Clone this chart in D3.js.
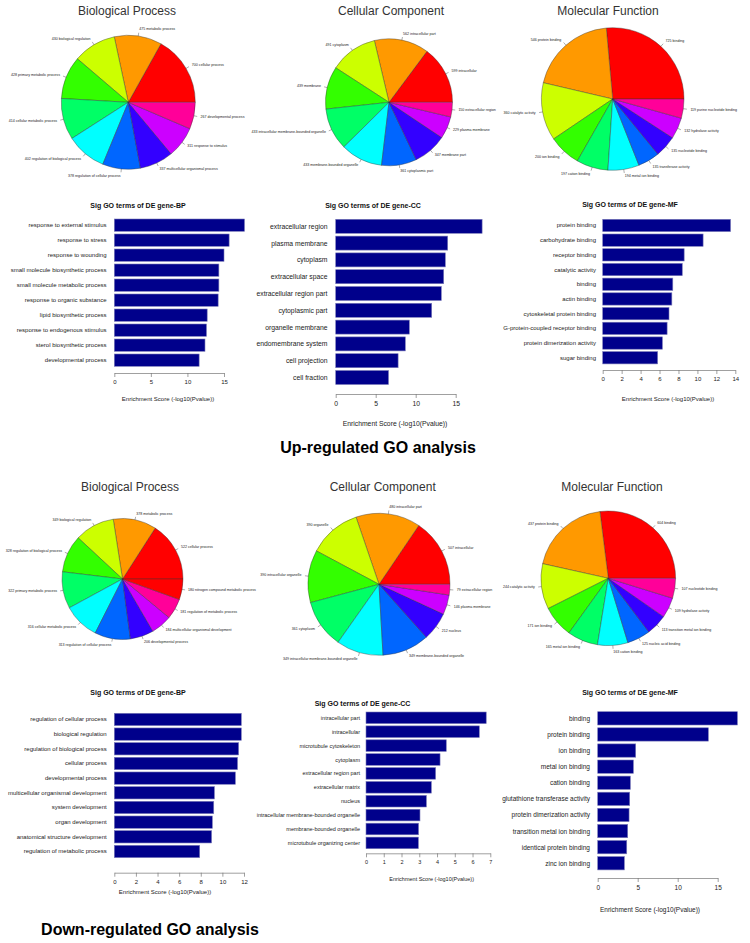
<!DOCTYPE html>
<html><head><meta charset="utf-8">
<script src="https://cdn.jsdelivr.net/npm/d3@7"></script>
<style>body{margin:0;background:#fff}svg{display:block;font-family:"Liberation Sans",Arial,sans-serif}</style>
</head><body><svg id="c" width="750" height="943"></svg>
<script>
// ---------- colours (R rainbow(10)) ----------
const pieColors = ["#FF0000","#FF9900","#CCFF00","#33FF00","#00FF66","#00FFFF","#0066FF","#3300FF","#CC00FF","#FF0099"];

// ---------- Up-regulated pies ----------
const upBPPieTerms = ["cellular process","metabolic process","biological regulation","primary metabolic process","cellular metabolic process","regulation of biological process","regulation of cellular process","multicellular organismal process","response to stimulus","developmental process"];
const upBPPieCounts = [700,475,430,428,414,402,378,337,311,267];
const upCCPieTerms = ["intracellular","intracellular part","cytoplasm","membrane","intracellular membrane-bounded organelle","membrane-bounded organelle","cytoplasmic part","membrane part","plasma membrane","extracellular region"];
const upCCPieCounts = [599,562,491,439,433,433,361,347,229,150];
const upMFPieTerms = ["binding","protein binding","catalytic activity","ion binding","cation binding","metal ion binding","transferase activity","nucleotide binding","hydrolase activity","purine nucleotide binding"];
const upMFPieCounts = [725,546,360,200,197,194,135,135,132,119];

// ---------- Down-regulated pies ----------
const downBPPieTerms = ["cellular process","metabolic process","biological regulation","regulation of biological process","primary metabolic process","cellular metabolic process","regulation of cellular process","developmental process","multicellular organismal development","regulation of metabolic process","nitrogen compound metabolic process"];
const downBPPieCounts = [522,378,349,328,322,316,313,206,184,181,180];
const downCCPieTerms = ["intracellular","intracellular part","organelle","intracellular organelle","cytoplasm","intracellular membrane-bounded organelle","membrane-bounded organelle","nucleus","plasma membrane","extracellular region"];
const downCCPieCounts = [507,480,390,390,361,349,349,212,146,79];
const downMFPieTerms = ["binding","protein binding","catalytic activity","ion binding","metal ion binding","cation binding","nucleic acid binding","transition metal ion binding","hydrolase activity","nucleotide binding"];
const downMFPieCounts = [604,437,244,171,165,163,125,113,109,107];

// ---------- Up-regulated bars ----------
const upBPTerms = ["response to external stimulus","response to stress","response to wounding","small molecule biosynthetic process","small molecule metabolic process","response to organic substance","lipid biosynthetic process","response to endogenous stimulus","sterol biosynthetic process","developmental process"];
const upBPScores = [17.8,15.7,15.0,14.3,14.3,14.2,12.7,12.6,12.4,11.6];
const upBPTicks = [0,5,10,15];
const upCCTerms = ["extracellular region","plasma membrane","cytoplasm","extracellular space","extracellular region part","cytoplasmic part","organelle membrane","endomembrane system","cell projection","cell fraction"];
const upCCScores = [18.3,14.0,13.7,13.5,13.2,12.0,9.2,8.7,7.8,6.6];
const upCCTicks = [0,5,10,15];
const upMFTerms = ["protein binding","carbohydrate binding","receptor binding","catalytic activity","binding","actin binding","cytoskeletal protein binding","G-protein-coupled receptor binding","protein dimerization activity","sugar binding"];
const upMFScores = [13.5,10.6,8.6,8.4,7.4,7.3,7.0,6.8,6.3,5.8];
const upMFTicks = [0,2,4,6,8,10,12,14];

// ---------- Down-regulated bars ----------
const downBPTerms = ["regulation of cellular process","biological regulation","regulation of biological process","cellular process","developmental process","multicellular organismal development","system development","organ development","anatomical structure development","regulation of metabolic process"];
const downBPScores = [11.75,11.75,11.5,11.4,11.2,9.26,9.2,9.07,9.0,7.9];
const downBPTicks = [0,2,4,6,8,10,12];
const downCCTerms = ["intracellular part","intracellular","microtubule cytoskeleton","cytoplasm","extracellular region part","extracellular matrix","nucleus","intracellular membrane-bounded organelle","membrane-bounded organelle","microtubule organizing center"];
const downCCScores = [6.77,6.38,4.52,4.17,3.92,3.68,3.4,3.04,2.96,2.95];
const downCCTicks = [0,1,2,3,4,5,6,7];
const downMFTerms = ["binding","protein binding","ion binding","metal ion binding","cation binding","glutathione transferase activity","protein dimerization activity","transition metal ion binding","identical protein binding","zinc ion binding"];
const downMFScores = [17.46,13.83,4.75,4.46,4.08,4.0,3.92,3.75,3.63,3.33];
const downMFTicks = [0,5,10,15];

const axisTitle = "Enrichment Score (-log10(Pvalue))";

const svg = d3.select("#c");

function drawPie(terms, counts, o) {
  const g = svg.append("g").attr("transform", `translate(${o.cx},${o.cy})`);
  const pie = d3.pie().sort(null).startAngle(Math.PI/2).endAngle(Math.PI/2 - 2*Math.PI);
  const arcs = pie(counts);
  const arc = d3.arc().innerRadius(0).outerRadius(o.r);
  g.selectAll("path").data(arcs).join("path")
    .attr("d", arc)
    .attr("fill", (d,i) => pieColors[i % pieColors.length])
    .attr("stroke", "#333").attr("stroke-width", 0.4);
  arcs.forEach((d,i) => {
    const a = (d.startAngle + d.endAngle)/2;
    const sx = Math.sin(a), sy = -Math.cos(a);
    g.append("line").attr("x1", sx*o.r).attr("y1", sy*o.r)
      .attr("x2", sx*o.r*1.05).attr("y2", sy*o.r*1.05)
      .attr("stroke", "#333").attr("stroke-width", 0.4);
    g.append("text").attr("x", sx*o.r*1.1).attr("y", sy*o.r*1.1)
      .attr("text-anchor", sx >= 0 ? "start" : "end")
      .attr("dominant-baseline", "central")
      .attr("font-size", 3.6).attr("fill", "#222")
      .text(counts[i] + " " + terms[i]);
  });
  svg.append("text").attr("x", o.tx).attr("y", o.ty)
    .attr("text-anchor", "middle").attr("dominant-baseline", "central")
    .attr("font-size", 12).attr("fill", "#333").text(o.title);
}

function drawBars(terms, scores, ticks, o) {
  const x = d3.scaleLinear().domain([0, ticks[ticks.length-1]]).range([o.x0, o.x1]);
  const p = (o.pitch - o.h) / o.pitch;
  const y = d3.scaleBand().domain(terms)
    .range([o.yTop - (o.pitch - o.h)/2, o.yTop - (o.pitch - o.h)/2 + o.pitch*terms.length])
    .paddingInner(p).paddingOuter(p/2);
  const g = svg.append("g");
  g.selectAll("rect").data(terms).join("rect")
    .attr("x", x(0)).attr("y", d => y(d))
    .attr("width", (d,i) => x(scores[i]) - x(0))
    .attr("height", y.bandwidth())
    .attr("fill", "#00008B").attr("stroke", "#7a7ab8").attr("stroke-width", 0.6);
  g.selectAll("text.lab").data(terms).join("text").attr("class","lab")
    .attr("x", o.labelX).attr("y", d => y(d) + y.bandwidth()/2)
    .attr("text-anchor", "end").attr("dominant-baseline", "central")
    .attr("font-size", o.fs).attr("fill", "#222").text(d => d);
  const ax = svg.append("g").attr("transform", `translate(0,${o.axisY})`)
    .call(d3.axisBottom(x).tickValues(ticks).tickSize(4).tickSizeOuter(0).tickFormat(d3.format("d")));
  ax.select(".domain").attr("stroke", "#777").attr("stroke-width", 0.7);
  ax.selectAll(".tick line").attr("stroke", "#777").attr("stroke-width", 0.7);
  ax.selectAll(".tick text").attr("font-size", o.fs).attr("fill", "#222")
    .attr("font-family", '"Liberation Sans",Arial,sans-serif').attr("y", o.tickLabDy);
  svg.append("text").attr("x", o.tx).attr("y", o.ty)
    .attr("text-anchor", "middle").attr("dominant-baseline", "central")
    .attr("font-size", 7).attr("font-weight", "bold").attr("fill", "#111").text(o.title);
  svg.append("text").attr("x", o.axX).attr("y", o.axY)
    .attr("text-anchor", "middle").attr("dominant-baseline", "central")
    .attr("font-size", o.fs).attr("fill", "#222").text(axisTitle);
}

// Up pies
drawPie(upBPPieTerms, upBPPieCounts, {cx:128.3, cy:102.3, r:67, title:"Biological Process", tx:127, ty:11});
drawPie(upCCPieTerms, upCCPieCounts, {cx:389, cy:102.3, r:63.5, title:"Cellular Component", tx:391, ty:11});
drawPie(upMFPieTerms, upMFPieCounts, {cx:612.7, cy:99, r:71.3, title:"Molecular Function", tx:608, ty:11});

// Up bars
drawBars(upBPTerms, upBPScores, upBPTicks, {x0:114.3, x1:224, yTop:219, pitch:15, h:12.3, labelX:106.5, fs:6,
  title:"Sig GO terms of DE gene-BP", tx:138, ty:205, axisY:373, tickLabDy:7, axX:168, axY:399});
drawBars(upCCTerms, upCCScores, upCCTicks, {x0:335.7, x1:455.7, yTop:219.3, pitch:16.8, h:14, labelX:327.5, fs:6.8,
  title:"Sig GO terms of DE gene-CC", tx:373, ty:205, axisY:394, tickLabDy:7, axX:395, axY:423});
drawBars(upMFTerms, upMFScores, upMFTicks, {x0:602.7, x1:735.3, yTop:219.3, pitch:14.7, h:12.3, labelX:596, fs:6,
  title:"Sig GO terms of DE gene-MF", tx:630, ty:204, axisY:370, tickLabDy:7, axX:668, axY:399});

svg.append("text").attr("x", 378).attr("y", 447).attr("text-anchor","middle").attr("dominant-baseline","central")
  .attr("font-size", 16).attr("font-weight","bold").attr("fill","#000").text("Up-regulated GO analysis");

// Down pies
drawPie(downBPPieTerms, downBPPieCounts, {cx:122.5, cy:579, r:60.5, title:"Biological Process", tx:130, ty:487});
drawPie(downCCPieTerms, downCCPieCounts, {cx:379, cy:584.3, r:71, title:"Cellular Component", tx:382.7, ty:487});
drawPie(downMFPieTerms, downMFPieCounts, {cx:608.3, cy:578.3, r:67.3, title:"Molecular Function", tx:612, ty:487});

// Down bars
drawBars(downBPTerms, downBPScores, downBPTicks, {x0:114.3, x1:244, yTop:713.3, pitch:14.67, h:12.3, labelX:106.7, fs:6,
  title:"Sig GO terms of DE gene-BP", tx:138, ty:692, axisY:872.7, tickLabDy:7, axX:165, axY:892});
drawBars(downCCTerms, downCCScores, downCCTicks, {x0:366, x1:490.3, yTop:712, pitch:13.9, h:11.6, labelX:360, fs:5.5,
  title:"Sig GO terms of DE gene-CC", tx:362.5, ty:703, axisY:853.3, tickLabDy:7, axX:431.7, axY:879});
drawBars(downMFTerms, downMFScores, downMFTicks, {x0:597.7, x1:717.7, yTop:711.7, pitch:16.1, h:13.3, labelX:590, fs:6.5,
  title:"Sig GO terms of DE gene-MF", tx:630, ty:692, axisY:878, tickLabDy:7, axX:650, axY:909});

svg.append("text").attr("x", 150).attr("y", 929).attr("text-anchor","middle").attr("dominant-baseline","central")
  .attr("font-size", 16).attr("font-weight","bold").attr("fill","#000").text("Down-regulated GO analysis");
</script></body></html>
